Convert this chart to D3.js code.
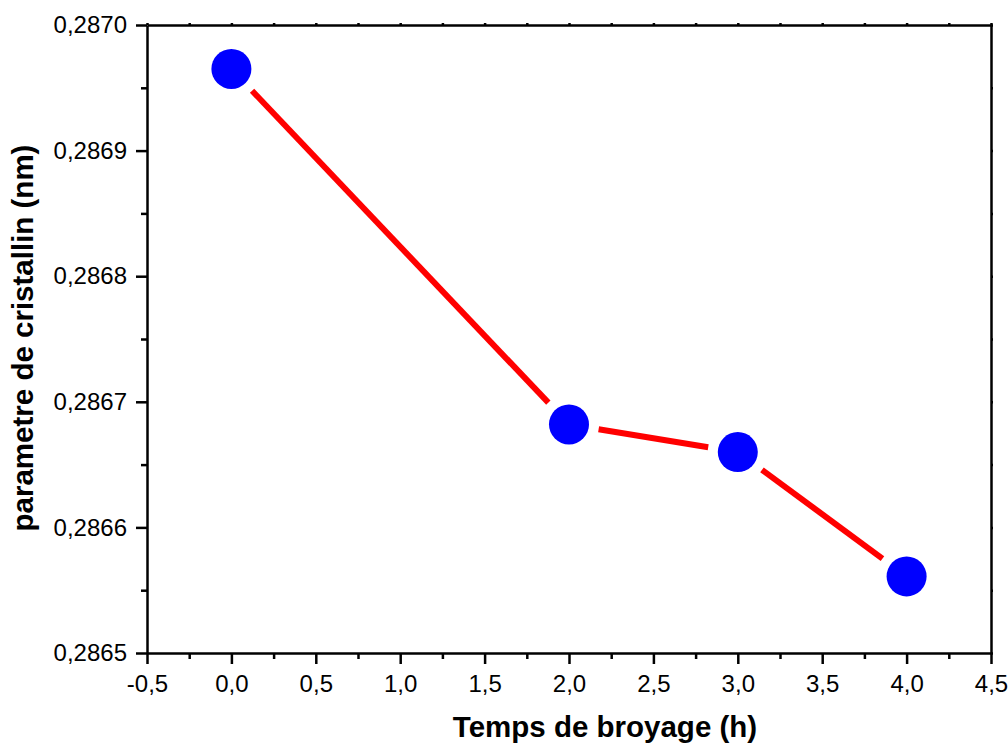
<!DOCTYPE html>
<html>
<head>
<meta charset="utf-8">
<script src="https://cdn.jsdelivr.net/npm/d3@7"></script>
<style>
  body { margin: 0; background: #fff; }
  text { font-family: Arial, "Liberation Sans", sans-serif; }
  .axis path, .axis line { stroke: #000; stroke-width: 2.5; }
  .axis text { font-size: 24px; fill: #000; }
</style>
</head>
<body>
<svg width="1008" height="744"></svg>
<script>

var hours = [0, 2, 3, 4];
var latticeParam = [0.286965, 0.286682, 0.286660, 0.286561];
var xMajorTicks = [-0.5, 0, 0.5, 1, 1.5, 2, 2.5, 3, 3.5, 4, 4.5];
var yMajorTicks = [0.2865, 0.2866, 0.2867, 0.2868, 0.2869, 0.2870];
var xLabel = "Temps de broyage (h)";
var yLabel = "parametre de cristallin (nm)";

var svg = d3.select("svg"),
    margin = {top: 25, right: 17, bottom: 91, left: 147},
    width = +svg.attr("width") - margin.left - margin.right,
    height = +svg.attr("height") - margin.top - margin.bottom,
    g = svg.append("g").attr("transform", "translate(" + margin.left + "," + margin.top + ")");

var fr = d3.formatLocale({decimal: ",", thousands: ".", grouping: [3], currency: ["", ""], minus: "-"});

var x = d3.scaleLinear().domain([-0.5, 4.5]).range([0, width]);
var y = d3.scaleLinear().domain([0.2865, 0.2870]).range([height, 0]);

var xMinor = d3.range(-0.25, 4.5, 0.5);
var yMinor = d3.range(0.28655, 0.2870, 0.0001);

// minor ticks first
g.append("g").attr("class", "axis")
    .attr("transform", "translate(0," + height + ")")
    .call(d3.axisBottom(x).tickValues(xMinor).tickSize(6).tickFormat(""))
    .select(".domain").remove();
g.append("g").attr("class", "axis")
    .call(d3.axisLeft(y).tickValues(yMinor).tickSize(6).tickFormat(""))
    .select(".domain").remove();

// top and right frame, tiny ticks
g.append("g").attr("class", "axis")
    .call(d3.axisTop(x).tickValues(xMajorTicks.concat(xMinor)).tickSize(2).tickSizeOuter(0).tickFormat(""));
g.append("g").attr("class", "axis")
    .attr("transform", "translate(" + width + ",0)")
    .call(d3.axisRight(y).tickValues(yMajorTicks.concat(yMinor)).tickSize(2).tickSizeOuter(0).tickFormat(""));

g.append("g").attr("class", "axis")
    .attr("transform", "translate(0," + height + ")")
    .call(d3.axisBottom(x).tickValues(xMajorTicks).tickSize(11).tickSizeOuter(0).tickPadding(11)
      .tickFormat(fr.format(".1f")));

g.append("g").attr("class", "axis")
    .call(d3.axisLeft(y).tickValues(yMajorTicks).tickSize(11).tickSizeOuter(0).tickPadding(9)
      .tickFormat(fr.format(".4f")));

// line segments, with gaps around markers
var gap = 30;
var data = hours.map(function(h, i) { return {h: h, v: latticeParam[i]}; });
var segs = d3.pairs(data).map(function(p) {
  var x1 = x(p[0].h), y1 = y(p[0].v), x2 = x(p[1].h), y2 = y(p[1].v);
  var len = Math.hypot(x2 - x1, y2 - y1), ux = (x2 - x1) / len, uy = (y2 - y1) / len;
  return [[x1 + ux * gap, y1 + uy * gap], [x2 - ux * gap, y2 - uy * gap]];
});

g.selectAll(".seg")
  .data(segs)
  .enter().append("path")
    .attr("class", "seg")
    .attr("d", d3.line())
    .attr("stroke", "#ff0000")
    .attr("stroke-width", 6)
    .attr("fill", "none");

g.selectAll(".dot")
  .data(data)
  .enter().append("circle")
    .attr("class", "dot")
    .attr("cx", function(d) { return x(d.h); })
    .attr("cy", function(d) { return y(d.v); })
    .attr("r", 20)
    .attr("fill", "#0000ff");

svg.append("text")
    .attr("x", 605)
    .attr("y", 737)
    .attr("text-anchor", "middle")
    .style("font-size", "29.5px")
    .style("font-weight", "bold")
    .text(xLabel);

svg.append("text")
    .attr("transform", "translate(33,338) rotate(-90)")
    .attr("text-anchor", "middle")
    .style("font-size", "29.5px")
    .style("font-weight", "bold")
    .text(yLabel);

</script>
</body>
</html>
